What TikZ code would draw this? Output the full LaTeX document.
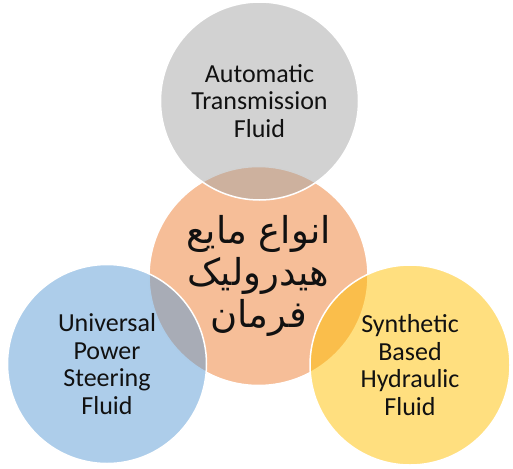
\documentclass[tikz,border=0pt]{standalone}
\usepackage{fontspec}
\setmainfont{Carlito}
\newfontfamily\arabicfont[Script=Arabic]{DejaVu Sans}
\TeXXeTstate=1
\usepackage{xcolor}

\definecolor{vgray}{HTML}{A5A5A5}
\definecolor{vorange}{HTML}{ED7D31}
\definecolor{vblue}{HTML}{5B9BD5}
\definecolor{vgold}{HTML}{FFC000}
\definecolor{vtext}{HTML}{111111}

\begin{document}
\begin{tikzpicture}[
    x=1pt, y=-1pt,
    venn/.style={circle, draw=white, line width=1.5pt, inner sep=0pt,
                 fill opacity=0.5, text opacity=1, align=center,
                 text=vtext, font=\fontsize{26}{27.5}\selectfont}
]
\useasboundingbox (0,0) rectangle (513,468);

% hub first, the three fluids over it
\node[venn, fill=vorange, minimum size=219pt,
      font=\arabicfont\fontsize{37}{42}\selectfont] (hub) at (258.5,276)
    {\beginR انواع مایع\endR\\
     \beginR هیدرولیک\endR\\
     \beginR فرمان\endR};

\node[venn, fill=vgray, minimum size=198pt] (atf) at (259.5,101)
    {Automatic\\ Transmission\\ Fluid};

\node[venn, fill=vblue, minimum size=199pt] (ups) at (107,364)
    {Universal\\ Power\\ Steering\\ Fluid};

\node[venn, fill=vgold, minimum size=200pt] (sbh) at (410,365)
    {Synthetic\\ Based\\ Hydraulic\\ Fluid};

\end{tikzpicture}
\end{document}
